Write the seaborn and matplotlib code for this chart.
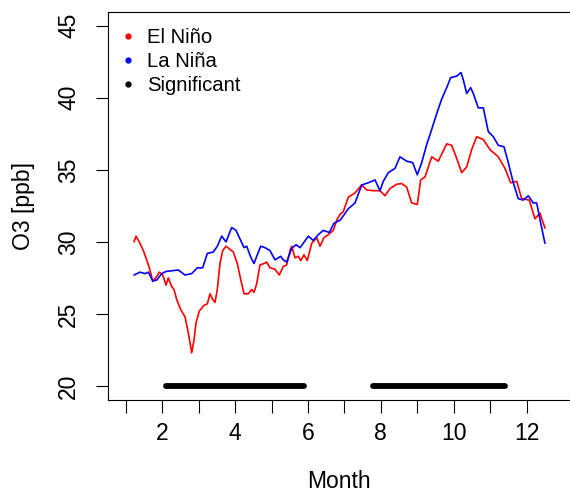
import numpy as np
import pandas as pd
import seaborn as sns
import matplotlib
matplotlib.use("Agg")
import matplotlib.pyplot as plt
from matplotlib.lines import Line2D

# ---- data ----
nino_month = [1.228, 1.283, 1.392, 1.483, 1.576, 1.667, 1.741, 1.850, 1.922, 2.015,
              2.106, 2.169, 2.262, 2.325, 2.399, 2.509, 2.627, 2.717, 2.811, 2.874,
              2.929, 3.019, 3.148, 3.239, 3.313, 3.387, 3.450, 3.513, 3.587, 3.661,
              3.752, 3.952, 4.062, 4.155, 4.246, 4.363, 4.457, 4.520, 4.594, 4.684,
              4.794, 4.868, 4.959, 5.096, 5.214, 5.324, 5.417, 5.508, 5.554, 5.645,
              5.735, 5.801, 5.892, 5.982, 6.103, 6.240, 6.331, 6.440, 6.558, 6.695,
              6.789, 6.879, 6.970, 7.107, 7.291, 7.475, 7.612, 7.793, 7.977, 8.114,
              8.251, 8.435, 8.572, 8.709, 8.846, 9.000, 9.093, 9.211, 9.395, 9.576,
              9.807, 9.944, 10.081, 10.218, 10.355, 10.492, 10.630, 10.811, 10.995, 11.222,
              11.406, 11.562, 11.727, 11.864, 12.073, 12.229, 12.366, 12.503]
nino_o3 = [30.0, 30.4, 29.9, 29.4, 28.75, 28.05, 27.25, 27.6, 27.9, 27.7,
           27.0, 27.5, 26.9, 26.7, 26.0, 25.3, 24.8, 23.7, 22.3, 23.2,
           24.4, 25.2, 25.6, 25.7, 26.4, 26.0, 25.8, 26.7, 28.5, 29.4,
           29.7, 29.3, 28.5, 27.4, 26.4, 26.4, 26.7, 26.5, 27.1, 28.4,
           28.5, 28.6, 28.2, 28.1, 27.7, 28.3, 28.4, 29.4, 29.7, 28.9,
           29.0, 28.7, 29.1, 28.7, 29.9, 30.3, 29.7, 30.3, 30.5, 30.8,
           31.5, 31.9, 32.1, 33.1, 33.4, 33.95, 33.6, 33.55, 33.55, 33.2,
           33.7, 34.0, 34.05, 33.8, 32.7, 32.6, 34.3, 34.5, 35.9, 35.6,
           36.8, 36.7, 35.8, 34.8, 35.2, 36.4, 37.3, 37.1, 36.4, 35.9,
           35.1, 34.1, 34.2, 33.0, 32.9, 31.6, 32.0, 30.95]

nina_month = [1.228, 1.392, 1.529, 1.620, 1.741, 1.850, 1.988, 2.106, 2.443, 2.627,
              2.811, 2.964, 3.112, 3.239, 3.403, 3.513, 3.634, 3.752, 3.908, 4.026,
              4.155, 4.246, 4.320, 4.429, 4.520, 4.610, 4.704, 4.822, 4.959, 5.096,
              5.252, 5.324, 5.417, 5.554, 5.672, 5.785, 5.856, 6.010, 6.147, 6.284,
              6.421, 6.586, 6.715, 6.879, 6.926, 7.107, 7.291, 7.475, 7.656, 7.839,
              7.977, 8.067, 8.204, 8.388, 8.525, 8.709, 8.874, 9.000, 9.121, 9.258,
              9.395, 9.532, 9.669, 9.807, 9.916, 10.081, 10.199, 10.262, 10.355, 10.465,
              10.536, 10.673, 10.811, 10.948, 11.085, 11.222, 11.379, 11.497, 11.634, 11.771,
              11.908, 12.045, 12.182, 12.276, 12.386, 12.503]
nina_o3 = [27.7, 27.9, 27.8, 27.9, 27.3, 27.35, 27.8, 27.95, 28.05, 27.7,
           27.8, 28.2, 28.2, 29.2, 29.3, 29.7, 30.4, 30.0, 31.0, 30.8,
           30.1, 29.6, 29.7, 28.95, 28.5, 29.1, 29.7, 29.6, 29.4, 28.75,
           29.0, 28.75, 28.6, 29.55, 29.8, 29.6, 29.85, 30.4, 30.1, 30.5,
           30.8, 30.65, 31.3, 31.5, 31.65, 32.3, 32.7, 33.95, 34.1, 34.3,
           33.55, 34.2, 34.8, 35.1, 35.9, 35.6, 35.5, 34.65, 35.5, 36.75,
           37.8, 38.9, 39.9, 40.7, 41.4, 41.5, 41.75, 41.25, 40.3, 40.7,
           40.3, 39.3, 39.3, 37.65, 37.3, 36.7, 36.6, 35.5, 34.1, 33.0,
           32.9, 33.2, 32.7, 32.7, 31.3, 29.9]

sig_start = [2.108, 7.798]
sig_end = [5.897, 11.41]
sig_level = 20

series_names = ["El Niño", "La Niña"]
series_colors = ["#ff0000", "#0000ff"]
legend_labels = ["El Niño", "La Niña", "Significant"]
legend_colors = ["#ff0000", "#0000ff", "#000000"]
y_ticks = [20, 25, 30, 35, 40, 45]
x_ticks = list(range(1, 13))
x_ticklabels = ["" if m % 2 else str(m) for m in x_ticks]

df = pd.concat([
    pd.DataFrame({"Month": nino_month, "O3": nino_o3, "Phase": series_names[0]}),
    pd.DataFrame({"Month": nina_month, "O3": nina_o3, "Phase": series_names[1]}),
])

sns.set_style("ticks")
plt.rcParams["font.family"] = ["Liberation Sans", "DejaVu Sans"]
plt.rcParams["text.color"] = "black"
plt.rcParams["axes.labelcolor"] = "black"
plt.rcParams["xtick.color"] = "black"
plt.rcParams["ytick.color"] = "black"

fig = plt.figure(figsize=(5.7, 4.91), dpi=100)
ax = fig.add_axes([108 / 570, 91 / 491, 462 / 570, 388 / 491])

sns.lineplot(data=df, x="Month", y="O3", hue="Phase", palette=series_colors,
             hue_order=series_names, sort=False, estimator=None, lw=1.2,
             legend=False, ax=ax)

for s, e in zip(sig_start, sig_end):
    ax.plot([s, e], [sig_level, sig_level], color="black", lw=4.2,
            solid_capstyle="round")

ax.set_xlim(0.514, 13.19)
ax.set_ylim(19.03, 45.95)
ax.set_xticks(x_ticks)
ax.set_xticklabels(x_ticklabels)
ax.set_yticks(y_ticks)
ax.set_yticklabels([str(v) for v in y_ticks], rotation=90, va="center")
ax.tick_params(axis="both", length=9, width=0.8, color="black",
               labelsize=16.5, labelcolor="black")
ax.tick_params(axis="x", pad=6.5)
ax.tick_params(axis="y", pad=11)

for side in ["left", "bottom", "top"]:
    ax.spines[side].set_visible(True)
    ax.spines[side].set_color("black")
    ax.spines[side].set_linewidth(0.8)
ax.spines["right"].set_visible(False)

ax.set_xlabel("Month", fontsize=16.5, labelpad=18, color="black")
ax.set_ylabel("O3 [ppb]", fontsize=16.5, labelpad=16, color="black")

handles = [Line2D([], [], ls="none", marker="o", ms=3.5, color=c) for c in legend_colors]
leg = ax.legend(handles, legend_labels, loc="upper left", bbox_to_anchor=(-0.006, 0.995),
                frameon=False, fontsize=14.6, handlelength=0.8, handletextpad=0.55,
                labelspacing=0.25, borderaxespad=0.3)
for t in leg.get_texts():
    t.set_color("black")

fig.savefig("out.png", dpi=100)
